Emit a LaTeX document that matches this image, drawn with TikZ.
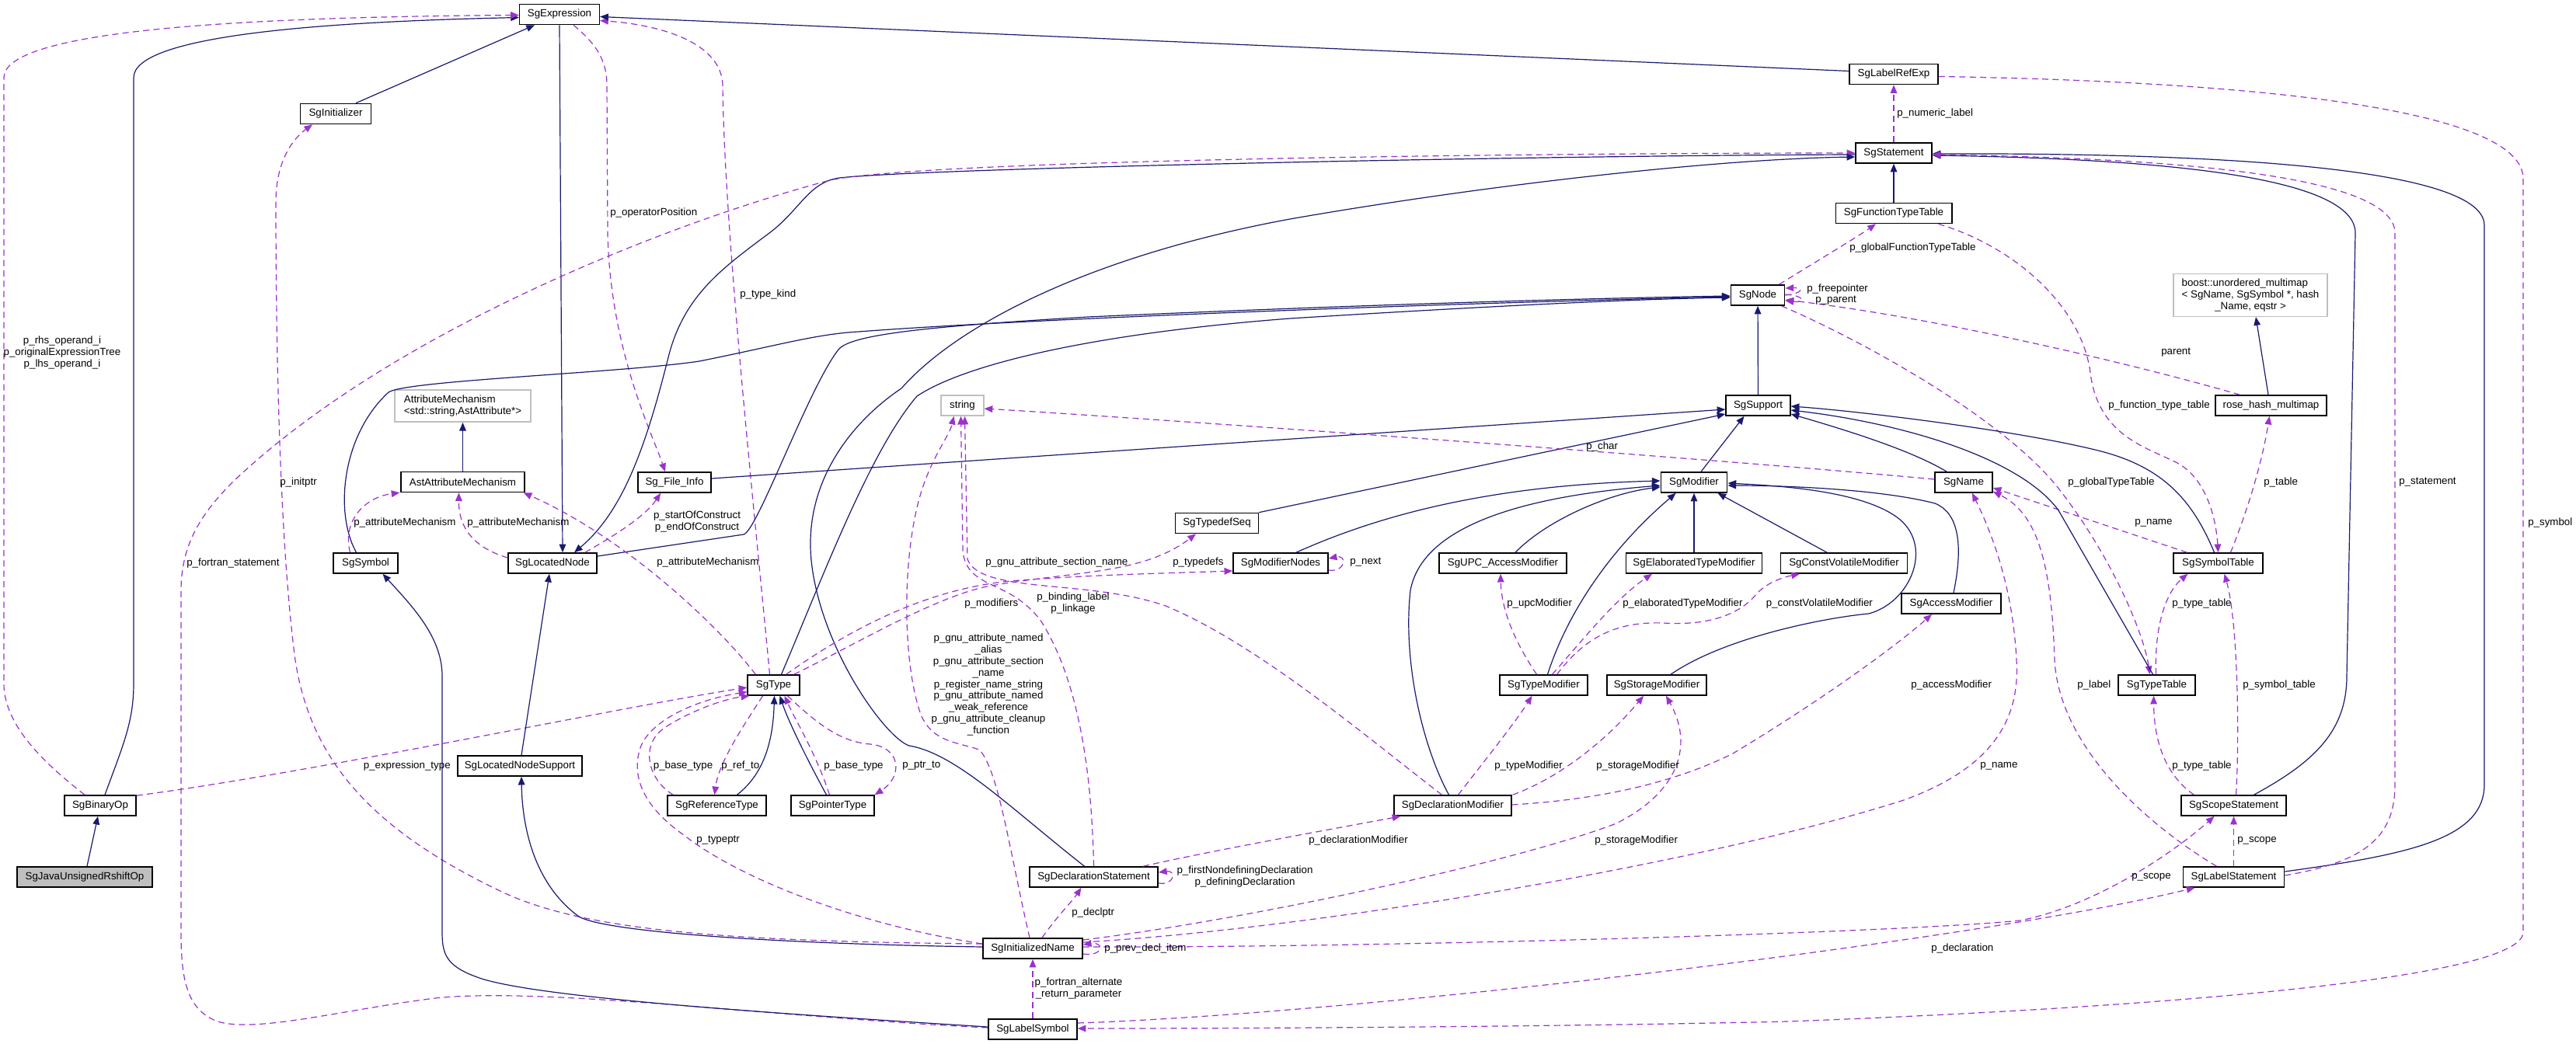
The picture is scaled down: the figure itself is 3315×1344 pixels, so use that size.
\documentclass[tikz,border=0pt]{standalone}
\usepackage{fontspec}
\setmainfont{Liberation Sans}
\usetikzlibrary{arrows.meta,calc}
\definecolor{navy}{RGB}{25,25,112}
\definecolor{orch}{RGB}{154,50,205}
\definecolor{gbord}{RGB}{191,191,191}
\begin{document}
\begin{tikzpicture}[x=0.75pt,y=-0.75pt,font=\fontsize{10}{11.1}\selectfont,
  nd/.style={draw=black,line width=1.2pt,fill=white,minimum height=19.5pt,inner sep=1pt,text=black},
  gn/.style={nd,draw=gbord},
  inh/.style={navy,line width=0.9pt,-{Triangle[length=8pt,width=6.5pt]}},
  memb/.style={orch,line width=0.9pt,dash pattern=on 6pt off 4pt,-{Triangle[length=8pt,width=6.5pt]}},
  lbl/.style={inner sep=0pt,text=black}]
\fill[white] (0,0) rectangle (3315,1344);
\useasboundingbox (0,0) rectangle (3315,1344);
% nodes
\node[nd,minimum width=77pt] (N1) at (720,18.5) {SgExpression};
\node[nd,minimum width=68pt] (N2) at (432,146.5) {SgInitializer};
\node[nd,minimum width=85.5pt] (N3) at (2437,95.5) {SgLabelRefExp};
\node[nd,minimum width=73.5pt] (N4) at (2437,197) {SgStatement};
\node[nd,minimum width=112pt] (N5) at (2437,274.5) {SgFunctionTypeTable};
\node[nd,minimum width=52pt] (N6) at (2262,380) {SgNode};
\node[gn,minimum width=148.5pt,minimum height=41pt,align=left] (N7) at (2896,380) {boost::unordered\_multimap\\< SgName, SgSymbol *, hash\\\hspace*{32pt}\_Name, eqstr >};
\node[gn,minimum width=131pt,minimum height=31pt,align=left] (N8) at (595.5,522.5) {AttributeMechanism\\<std::string,AstAttribute*>};
\node[nd,minimum width=70.5pt] (N9) at (868,621) {Sg\_File\_Info};
\node[gn,minimum width=41pt] (N10) at (1238.5,522) {string};
\node[nd,minimum width=62pt] (N11) at (2262.5,522) {SgSupport};
\node[nd,minimum width=107pt] (N12) at (2922.5,522) {rose\_hash\_multimap};
\node[nd,minimum width=119pt] (N13) at (595.5,620.5) {AstAttributeMechanism};
\node[nd,minimum width=64pt] (N14) at (2180,621) {SgModifier};
\node[nd,minimum width=55.5pt] (N15) at (2527,621) {SgName};
\node[nd,minimum width=80pt] (N16) at (1566,673.5) {SgTypedefSeq};
\node[nd,minimum width=62pt] (N17) at (470.5,725) {SgSymbol};
\node[nd,minimum width=85.5pt] (N18) at (711,725) {SgLocatedNode};
\node[nd,minimum width=91.5pt] (N19) at (1648,725) {SgModifierNodes};
\node[nd,minimum width=123pt] (N20) at (1934,725) {SgUPC\_AccessModifier};
\node[nd,minimum width=131pt] (N21) at (2180,725) {SgElaboratedTypeModifier};
\node[nd,minimum width=122pt] (N22) at (2373,725) {SgConstVolatileModifier};
\node[nd,minimum width=86pt] (N23) at (2854.5,725) {SgSymbolTable};
\node[nd,minimum width=96pt] (N24) at (2511,777) {SgAccessModifier};
\node[nd,minimum width=50pt] (N25) at (995.5,882) {SgType};
\node[nd,minimum width=85pt] (N26) at (1986.5,882) {SgTypeModifier};
\node[nd,minimum width=96pt] (N27) at (2132,882) {SgStorageModifier};
\node[nd,minimum width=74pt] (N28) at (2775.5,882) {SgTypeTable};
\node[nd,minimum width=120pt] (N29) at (669,986) {SgLocatedNodeSupport};
\node[nd,minimum width=69pt] (N30) at (129,1037) {SgBinaryOp};
\node[nd,minimum width=95pt] (N31) at (922.5,1037) {SgReferenceType};
\node[nd,minimum width=80pt] (N32) at (1071.5,1037) {SgPointerType};
\node[nd,minimum width=113pt] (N33) at (1869.5,1037) {SgDeclarationModifier};
\node[nd,minimum width=101pt] (N34) at (2874.5,1037) {SgScopeStatement};
\node[nd,minimum width=130.5pt,fill=gbord] (N35) at (109,1129) {SgJavaUnsignedRshiftOp};
\node[nd,minimum width=124pt] (N36) at (1407.5,1129) {SgDeclarationStatement};
\node[nd,minimum width=97.5pt] (N37) at (2874.5,1129) {SgLabelStatement};
\node[nd,minimum width=96pt] (N38) at (1329,1221) {SgInitializedName};
\node[nd,minimum width=85.5pt] (N39) at (1329,1325) {SgLabelSymbol};
% edges
\draw[inh] (N35) -- (N30);
\draw[inh] ($(N30.north)+(6,0)$) .. controls (158,960) and (172,930) .. (172,880) -- (172,100) .. controls (172,45) and (420,28) .. ($(N1.west)+(0,4)$);
\draw[memb] ($(N30.north)+(-20,0)$) .. controls (60,985) and (5,935) .. (5,880) -- (5,100) .. controls (5,40) and (300,22) .. ($(N1.west)+(0,1)$);
\draw[inh] ($(N2.north)+(26,0)$) -- ($(N1.south)+(-32,0)$);
\draw[memb] ($(N38.west)+(0,-6)$) .. controls (950,1212) and (760,1200) .. (650,1150) .. controls (480,1070) and (400,980) .. (380,850) .. controls (360,700) and (355,450) .. (355,260) .. controls (355,210) and (375,180) .. ($(N2.south)+(-30,0)$);
\draw[memb] ($(N25.north)+(-5,0)$) .. controls (975,700) and (932,300) .. (930,110) .. controls (929,55) and (850,32) .. ($(N1.east)+(0,8)$);
\draw[inh] ($(N3.west)+(0,-4)$) -- ($(N1.east)+(0,3)$);
\draw[memb] ($(N1.south)+(18,0)$) .. controls (765,55) and (781,75) .. (781,110) -- (782,300) .. controls (785,450) and (840,560) .. ($(N9.north)+(-12,0)$);
\draw[inh] (N1.south) -- ($(N18.north)+(13,0)$);
\draw[inh] ($(N4.west)+(0,2)$) .. controls (2000,200) and (1200,216) .. (1080,229) .. controls (1040,235) and (1030,270) .. (990,300) .. controls (930,345) and (880,380) .. (860,460) .. controls (830,580) and (800,660) .. ($(N18.north)+(28,0)$);
\draw[memb] ($(N39.west)+(0,-2)$) .. controls (1000,1310) and (700,1270) .. (560,1285) .. controls (440,1300) and (330,1330) .. (280,1315) .. controls (240,1300) and (233,1260) .. (233,1200) -- (233,760) .. controls (233,700) and (260,660) .. (300,620) .. controls (500,430) and (850,290) .. (1068,232) .. controls (1200,205) and (2000,197) .. (N4.west);
\draw[inh] ($(N36.north)+(-12,0)$) .. controls (1300,1040) and (1230,970) .. (1170,960) .. controls (1140,950) and (1060,840) .. (1045,730) .. controls (1030,620) and (1100,540) .. (1160,500) .. controls (1230,420) and (1400,330) .. (1660,282) .. controls (1900,240) and (2200,205) .. ($(N4.west)+(0,5)$);
\draw[inh] (N5) -- (N4);
\draw[memb] (N4) -- (N3);
\draw[inh] ($(N34.north)+(26,0)$) .. controls (2980,980) and (3020,940) .. (3020,870) -- (3031,300) .. controls (3031,230) and (2800,205) .. ($(N4.east)+(0,3)$);
\draw[inh] ($(N37.east)+(0,-7)$) .. controls (3100,1100) and (3197,1080) .. (3197,1010) -- (3197,290) .. controls (3197,210) and (2800,197) .. ($(N4.east)+(0,1)$);
\draw[memb] ($(N37.east)+(0,-2)$) .. controls (3040,1110) and (3082,1080) .. (3082,1010) -- (3082,300) .. controls (3082,220) and (2750,203) .. ($(N4.east)+(0,2)$);
\draw[memb] ($(N3.east)+(0,3)$) .. controls (2900,105) and (3247,140) .. (3247,230) -- (3247,1200) .. controls (3247,1265) and (2700,1300) .. (2300,1315) .. controls (2000,1322) and (1600,1324) .. ($(N39.east)+(0,-1)$);
\draw[memb] ($(N39.east)+(0,-8)$) .. controls (1750,1305) and (2550,1210) .. ($(N37.south)+(-50,0)$);
\draw[memb] (N39) -- (N38);
\draw[inh] ($(N39.west)+(0,-3)$) .. controls (1000,1305) and (700,1285) .. (620,1260) .. controls (575,1245) and (569,1230) .. (569,1200) -- (569,870) .. controls (569,820) and (530,780) .. ($(N17.south)+(22,0)$);
\draw[inh] ($(N17.north)+(-12,0)$) .. controls (430,660) and (440,560) .. (500,505) .. controls (520,490) and (800,480) .. (900,465) .. controls (1000,445) and (1050,430) .. (1105,427) .. controls (1300,412) and (1800,392) .. ($(N6.west)+(0,2)$);
\draw[inh] ($(N18.east)+(0,-9)$) -- (957,688) .. controls (975,683) and (1040,500) .. (1079,450) .. controls (1095,430) and (1200,420) .. (1400,408) .. controls (1800,390) and (2100,383) .. ($(N6.west)+(0,1)$);
\draw[inh] ($(N25.north)+(10,0)$) .. controls (1060,740) and (1120,580) .. (1180,510) .. controls (1240,470) and (1400,430) .. (1660,410) .. controls (1900,395) and (2100,385) .. ($(N6.west)+(0,3)$);
\draw[inh] (N11) -- (N6);
\draw[memb] (N6.east) .. controls (2320,378) and (2322,370) .. ($(N6.east)+(0,-9)$);
\draw[memb] ($(N6.east)+(0,-1)$) .. controls (2325,381) and (2322,390) .. ($(N6.east)+(0,7)$);
\draw[memb] ($(N6.north east)+(-8,0)$) .. controls (2340,335) and (2390,305) .. ($(N5.south)+(-23,0)$);
\draw[memb] ($(N6.south east)+(-5,0)$) .. controls (2400,440) and (2580,540) .. (2650,630) .. controls (2720,720) and (2760,820) .. ($(N28.north)+(-9,0)$);
\draw[memb] ($(N12.north west)+(32,0)$) .. controls (2750,470) and (2500,410) .. ($(N6.east)+(0,6)$);
\draw[inh] ($(N12.north)+(-3.5,0)$) -- ($(N7.south)+(7,0)$);
\draw[memb] ($(N23.north)+(16,0)$) .. controls (2895,650) and (2912,590) .. ($(N12.south)+(-2,0)$);
\draw[memb] ($(N5.south east)+(-18,0)$) .. controls (2600,320) and (2680,400) .. (2690,480) .. controls (2700,560) and (2760,575) .. (2800,595) .. controls (2840,615) and (2852,670) .. (N23.north);
\draw[memb] ($(N23.north west)+(18,0)$) -- ($(N15.east)+(0,7)$);
\draw[memb] ($(N28.north)+(-1,0)$) .. controls (2772,800) and (2790,760) .. ($(N23.south west)+(19,0)$);
\draw[memb] ($(N34.north west)+(17,0)$) .. controls (2790,1000) and (2772,960) .. ($(N28.south)+(-4,0)$);
\draw[memb] ($(N34.north)+(3,0)$) .. controls (2882,950) and (2880,800) .. ($(N23.south)+(8,0)$);
\draw[memb] (N37) -- (N34);
\draw[memb] ($(N37.north)+(-22,0)$) .. controls (2760,1060) and (2650,960) .. (2644,850) .. controls (2640,720) and (2620,660) .. ($(N15.south east)+(0,-2)$);
\draw[memb] ($(N38.east)+(0,-8)$) .. controls (1700,1195) and (2200,1110) .. (2450,1030) .. controls (2560,990) and (2600,930) .. (2595,850) .. controls (2590,750) and (2560,680) .. ($(N15.south)+(11,0)$);
\draw[memb] ($(N38.east)+(0,-11)$) .. controls (1600,1185) and (1950,1110) .. (2080,1060) .. controls (2160,1020) and (2180,960) .. ($(N27.south)+(12,0)$);
\draw[memb] ($(N38.east)+(0,-2)$) .. controls (1800,1220) and (2450,1200) .. (2600,1185) .. controls (2700,1165) and (2800,1095) .. ($(N34.south)+(-25,0)$);
\draw[memb] ($(N38.east)+(0,7)$) .. controls (1420,1232) and (1422,1212) .. ($(N38.east)+(0,-5)$);
\draw[memb] ($(N38.north)+(12,0)$) .. controls (1360,1180) and (1380,1160) .. ($(N36.south)+(-16,0)$);
\draw[memb] ($(N38.west)+(0,-6)$) .. controls (1100,1190) and (950,1130) .. (880,1075) .. controls (830,1040) and (810,1000) .. (825,960) .. controls (840,925) and (900,900) .. ($(N25.south west)+(0,-5)$);
\draw[memb] ($(N30.north east)+(0,1)$) .. controls (400,995) and (800,910) .. ($(N25.west)+(0,3)$);
\draw[memb] ($(N31.north west)+(8,0)$) .. controls (835,1005) and (822,960) .. (855,937) .. controls (885,917) and (930,900) .. ($(N25.south west)+(3,0)$);
\draw[memb] ($(N25.south)+(-14,0)$) .. controls (960,930) and (925,980) .. ($(N31.north)+(-3,0)$);
\draw[inh] ($(N31.north)+(26,0)$) .. controls (985,995) and (995,950) .. ($(N25.south)+(1,0)$);
\draw[inh] ($(N32.north)+(-8,0)$) .. controls (1040,980) and (1015,930) .. ($(N25.south)+(8,0)$);
\draw[memb] ($(N32.north)+(-4,0)$) .. controls (1050,970) and (1025,930) .. ($(N25.south)+(14,0)$);
\draw[memb] ($(N25.south)+(18,0)$) .. controls (1050,930) and (1080,955) .. (1120,958) .. controls (1160,962) and (1162,1000) .. (N32.north east);
\draw[memb] ($(N25.north west)+(11,0)$) .. controls (920,800) and (800,690) .. ($(N13.south east)+(-2,0)$);
\draw[memb] ($(N17.north)+(-20,0)$) .. controls (440,670) and (470,640) .. ($(N13.south west)+(-1,0)$);
\draw[memb] ($(N18.west)+(0,-7)$) .. controls (610,705) and (590,680) .. ($(N13.south)+(-5,0)$);
\draw[inh] (N13) -- (N8);
\draw[memb] ($(N18.north east)+(-16,0)$) .. controls (790,690) and (830,665) .. ($(N9.south west)+(30,0)$);
\draw[inh] ($(N9.east)+(0,-5)$) -- ($(N11.west)+(0,5)$);
\draw[inh] (N16.north east) -- ($(N11.west)+(0,11)$);
\draw[inh] ($(N14.north)+(9,0)$) -- ($(N11.south)+(-18,0)$);
\draw[inh] ($(N15.north west)+(16,0)$) .. controls (2460,580) and (2380,555) .. ($(N11.east)+(0,11)$);
\draw[inh] ($(N28.north)+(-5,0)$) -- (2649,657) .. controls (2600,590) and (2450,545) .. ($(N11.east)+(0,6)$);
\draw[inh] ($(N23.north)+(-5,0)$) .. controls (2820,640) and (2780,600) .. (2700,580) .. controls (2600,555) and (2400,530) .. ($(N11.east)+(0,1)$);
\draw[inh] ($(N19.north)+(20,0)$) .. controls (1760,670) and (1900,625) .. ($(N14.west)+(0,-2)$);
\draw[inh] ($(N20.north)+(16,0)$) .. controls (1990,670) and (2070,635) .. ($(N14.west)+(0,6)$);
\draw[inh] ($(N26.north)+(5,0)$) .. controls (2020,780) and (2080,700) .. ($(N14.south west)+(20,0)$);
\draw[inh] (N21) -- (N14);
\draw[inh] ($(N22.north)+(-22,0)$) -- ($(N14.south east)+(-13,0)$);
\draw[inh] ($(N27.north)+(18,0)$) .. controls (2220,820) and (2350,795) .. (2405,790) .. controls (2460,775) and (2490,700) .. (2440,665) .. controls (2390,630) and (2280,625) .. ($(N14.east)+(0,1)$);
\draw[inh] ($(N24.north)+(3,0)$) .. controls (2527,700) and (2520,660) .. (2490,648) .. controls (2420,630) and (2300,625) .. ($(N14.east)+(0,4)$);
\draw[inh] ($(N33.north)+(-5,0)$) .. controls (1830,960) and (1805,850) .. (1815,760) .. controls (1830,680) and (1950,640) .. ($(N14.west)+(0,4)$);
\draw[memb] ($(N19.east)+(0,9)$) .. controls (1732,737) and (1734,714) .. ($(N19.east)+(0,-6)$);
\draw[memb] ($(N26.north)+(-9,0)$) .. controls (1945,820) and (1932,780) .. ($(N20.south)+(-3,0)$);
\draw[memb] ($(N26.north)+(11,0)$) .. controls (2040,820) and (2080,770) .. ($(N21.south)+(-54,0)$);
\draw[memb] ($(N26.north)+(17,0)$) .. controls (2040,820) and (2080,800) .. (2140,802) .. controls (2200,806) and (2240,790) .. (2260,765) .. controls (2275,748) and (2300,742) .. ($(N22.south)+(-57,0)$);
\draw[memb] ($(N33.north)+(7,0)$) .. controls (1910,980) and (1950,930) .. ($(N26.south)+(-15,0)$);
\draw[memb] ($(N33.north east)+(1,0)$) .. controls (2010,1000) and (2070,950) .. ($(N27.south)+(-17,0)$);
\draw[memb] ($(N33.east)+(0,-1)$) .. controls (2050,1030) and (2150,1010) .. (2230,970) .. controls (2330,910) and (2430,840) .. ($(N24.south)+(-25,0)$);
\draw[memb] ($(N36.north east)+(-20,0)$) .. controls (1560,1095) and (1700,1070) .. ($(N33.south west)+(9,0)$);
\draw[memb] ($(N36.east)+(0,8)$) .. controls (1512,1140) and (1514,1120) .. ($(N36.east)+(0,-6)$);
\draw[memb] (N36.north) .. controls (1405,1000) and (1390,880) .. (1340,800) .. controls (1300,745) and (1245,760) .. (1239,710) -- ($(N10.south)+(-2,0)$);
\draw[memb] ($(N38.north)+(-4,0)$) .. controls (1300,1100) and (1285,990) .. (1260,965) .. controls (1230,955) and (1200,955) .. (1185,920) .. controls (1160,850) and (1160,700) .. (1190,620) .. controls (1205,580) and (1222,560) .. ($(N10.south)+(-11,0)$);
\draw[memb] ($(N33.north)+(-14,0)$) .. controls (1760,950) and (1620,830) .. (1500,780) .. controls (1400,745) and (1262,765) .. (1245,720) -- ($(N10.south)+(3,0)$);
\draw[memb] ($(N15.west)+(0,-4)$) .. controls (2200,590) and (1500,540) .. ($(N10.east)+(0,4)$);
\draw[memb] ($(N25.north east)+(-18,0)$) .. controls (1080,820) and (1180,760) .. (1300,748) .. controls (1400,740) and (1500,738) .. ($(N19.west)+(0,10)$);
\draw[memb] ($(N25.north east)+(-8,0)$) .. controls (1100,830) and (1200,770) .. (1270,755) .. controls (1380,735) and (1470,740) .. ($(N16.south)+(-27,0)$);
\draw[inh] ($(N29.north)+(2,0)$) -- ($(N18.south)+(-4,0)$);
\draw[inh] ($(N38.west)+(0,-2)$) .. controls (1000,1215) and (780,1200) .. (745,1180) .. controls (690,1140) and (672,1070) .. ($(N29.south)+(2,0)$);
% labels
\node[lbl,align=center] (L1) at (80,454) {p\_rhs\_operand\_i\\p\_originalExpressionTree\\p\_lhs\_operand\_i};
\node[lbl,anchor=west] (L2) at (360,621) {p\_initptr};
\node[lbl,anchor=west] (L3) at (240,725) {p\_fortran\_statement};
\node[lbl,anchor=west] (L4) at (455,673) {p\_attributeMechanism};
\node[lbl,anchor=west] (L5) at (601,673) {p\_attributeMechanism};
\node[lbl,anchor=west] (L6) at (785,274) {p\_operatorPosition};
\node[lbl,anchor=west] (L7) at (952,379) {p\_type\_kind};
\node[lbl,align=center] (L8) at (897,671.5) {p\_startOfConstruct\\p\_endOfConstruct};
\node[lbl,anchor=west] (L9) at (845,724) {p\_attributeMechanism};
\node[lbl,anchor=west] (L10) at (1268,724) {p\_gnu\_attribute\_section\_name};
\node[lbl,anchor=west] (L11) at (1509,724) {p\_typedefs};
\node[lbl,anchor=west] (L12) at (1241,777) {p\_modifiers};
\node[lbl,align=center] (L13) at (1381,776.5) {p\_binding\_label\\p\_linkage};
\node[lbl,align=center] (L14) at (1272,881.5) {p\_gnu\_attribute\_named\\\_alias\\p\_gnu\_attribute\_section\\\_name\\p\_register\_name\_string\\p\_gnu\_attribute\_named\\\_weak\_reference\\p\_gnu\_attribute\_cleanup\\\_function};
\node[lbl,anchor=west] (L15) at (2041,575) {p\_char};
\node[lbl,anchor=west] (L16) at (1737,724) {p\_next};
\node[lbl,anchor=west] (L17) at (1939,777) {p\_upcModifier};
\node[lbl,anchor=west] (L18) at (2088,777) {p\_elaboratedTypeModifier};
\node[lbl,anchor=west] (L19) at (2272.5,777) {p\_constVolatileModifier};
\node[lbl,anchor=west] (L20) at (2459,882) {p\_accessModifier};
\node[lbl,anchor=west] (L21) at (2441,146) {p\_numeric\_label};
\node[lbl,anchor=west] (L22) at (2380,319) {p\_globalFunctionTypeTable};
\node[lbl,anchor=west] (L23) at (2325,372) {p\_freepointer};
\node[lbl,anchor=west] (L24) at (2336,387) {p\_parent};
\node[lbl,anchor=west] (L25) at (2781,454) {parent};
\node[lbl,anchor=west] (L26) at (2713,522) {p\_function\_type\_table};
\node[lbl,anchor=west] (L27) at (2661,621) {p\_globalTypeTable};
\node[lbl,anchor=west] (L28) at (2913,621) {p\_table};
\node[lbl,anchor=west] (L29) at (3087,621) {p\_statement};
\node[lbl,anchor=west] (L30) at (2747,673) {p\_name};
\node[lbl,anchor=west] (L31) at (3253,673) {p\_symbol};
\node[lbl,anchor=west] (L32) at (2795,777) {p\_type\_table};
\node[lbl,anchor=west] (L33) at (2673,882) {p\_label};
\node[lbl,anchor=west] (L34) at (2886,882) {p\_symbol\_table};
\node[lbl,anchor=west] (L35) at (467.5,986) {p\_expression\_type};
\node[lbl,anchor=west] (L36) at (840.6,986) {p\_base\_type};
\node[lbl,anchor=west] (L37) at (928,986) {p\_ref\_to};
\node[lbl,anchor=west] (L38) at (1060,986) {p\_base\_type};
\node[lbl,anchor=west] (L39) at (1161,986) {p\_ptr\_to};
\node[lbl,anchor=west] (L40) at (896,1082) {p\_typeptr};
\node[lbl,align=center] (L41) at (1602,1128.5) {p\_firstNondefiningDeclaration\\p\_definingDeclaration};
\node[lbl,anchor=west] (L42) at (1379,1175) {p\_declptr};
\node[lbl,anchor=west] (L43) at (1421,1221) {p\_prev\_decl\_item};
\node[lbl,align=center] (L44) at (1388,1272.5) {p\_fortran\_alternate\\\_return\_parameter};
\node[lbl,anchor=west] (L45) at (1923,986) {p\_typeModifier};
\node[lbl,anchor=west] (L46) at (2054,986) {p\_storageModifier};
\node[lbl,anchor=west] (L47) at (1684,1082) {p\_declarationModifier};
\node[lbl,anchor=west] (L48) at (2052,1082) {p\_storageModifier};
\node[lbl,anchor=west] (L49) at (2548,986) {p\_name};
\node[lbl,anchor=west] (L50) at (2795,986) {p\_type\_table};
\node[lbl,anchor=west] (L51) at (2879,1082) {p\_scope};
\node[lbl,anchor=west] (L52) at (2743,1129) {p\_scope};
\node[lbl,anchor=west] (L53) at (2485,1221) {p\_declaration};
\end{tikzpicture}
\end{document}
